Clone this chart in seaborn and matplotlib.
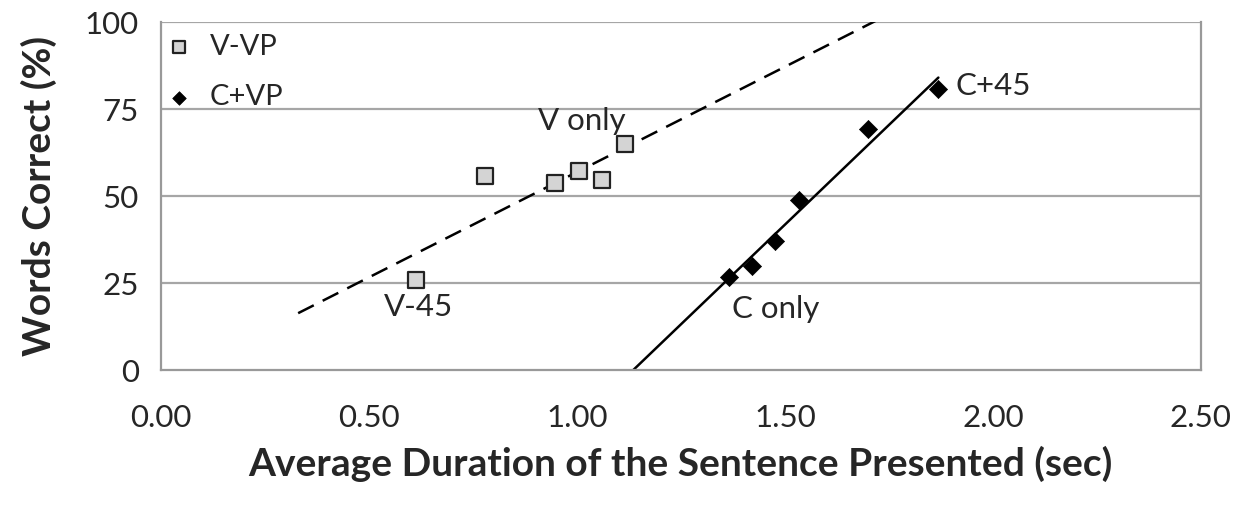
import numpy as np
import pandas as pd
import matplotlib
matplotlib.use("Agg")
import matplotlib.pyplot as plt
import seaborn as sns

# V-VP condition (visual only, varying playback)
v_dur = [0.613, 0.779, 0.947, 1.004, 1.060, 1.115]
v_correct = [25.9, 55.7, 53.9, 57.2, 54.6, 64.9]
# C+VP condition
c_dur = [1.366, 1.421, 1.477, 1.533, 1.701, 1.869]
c_correct = [26.8, 30.0, 37.0, 48.9, 69.3, 80.7]

# trend line extents (Excel style forecast)
v_trend_range = [0.33, 1.80]
c_trend_range = [1.00, 1.869]

x_ticks = [0.0, 0.5, 1.0, 1.5, 2.0, 2.5]
y_ticks = [0, 25, 50, 75, 100]

sns.set_style("white")
plt.rcParams["font.family"] = ["Lato", "DejaVu Sans"]

fig = plt.figure(figsize=(12.47, 5.12), dpi=100)
ax = fig.add_axes([0.129, 0.277, 0.834, 0.680])

grid_col = "#a6a6a6"
for yv in y_ticks[1:]:
    ax.axhline(yv, color=grid_col, lw=1.6, zorder=0)

# trend lines fitted to the data
for dur, corr, rng, ls in [(v_dur, v_correct, v_trend_range, (0, (7, 4))),
                           (c_dur, c_correct, c_trend_range, "-")]:
    slope, icpt = np.polyfit(dur, corr, 1)
    xs = np.array(rng)
    ax.plot(xs, slope * xs + icpt, color="black", lw=1.8, linestyle=ls, zorder=2)

df = pd.concat([
    pd.DataFrame({"dur": v_dur, "correct": v_correct, "cond": "V-VP"}),
    pd.DataFrame({"dur": c_dur, "correct": c_correct, "cond": "C+VP"}),
])
sns.scatterplot(data=df[df.cond == "V-VP"], x="dur", y="correct", marker="s",
                s=120, color="#d4d4d4", edgecolor="#222222", linewidth=1.6,
                label="V-VP", ax=ax, zorder=3)
sns.scatterplot(data=df[df.cond == "C+VP"], x="dur", y="correct", marker="D",
                s=85, color="black", edgecolor="black", linewidth=0.5,
                label="C+VP", ax=ax, zorder=3)

# point annotations
fs_note = 22.5
ax.text(1.012, 71.6, "V only", fontsize=fs_note, ha="center", va="center")
ax.text(0.620, 18.1, "V-45", fontsize=fs_note, ha="center", va="center")
ax.text(1.909, 81.6, "C+45", fontsize=fs_note, ha="left", va="center")
ax.text(1.478, 17.5, "C only", fontsize=fs_note, ha="center", va="center")

ax.set_xlim(0, 2.5)
ax.set_ylim(0, 100)
ax.set_xticks(x_ticks)
ax.set_xticklabels([f"{t:.2f}" for t in x_ticks])
ax.set_yticks(y_ticks)
ax.tick_params(axis="both", labelsize=22.5, length=8, width=1.2, color="#999999",
               direction="out")
ax.tick_params(axis="x", pad=16)
ax.tick_params(axis="y", pad=8)

for side in ["left", "bottom", "right"]:
    ax.spines[side].set_color("#999999")
    ax.spines[side].set_linewidth(1.6)
ax.spines["top"].set_visible(False)

ax.set_xlabel("Average Duration of the Sentence Presented (sec)",
              fontsize=28, fontweight="bold", labelpad=10)
ax.set_ylabel("Words Correct (%)", fontsize=28, fontweight="bold", labelpad=20)

ax.legend(loc="upper left", frameon=False, fontsize=21, handletextpad=0.05,
          borderaxespad=0.0, labelspacing=0.85, markerscale=0.75,
          bbox_to_anchor=(-0.022, 1.0))

fig.savefig("out.png", dpi=100)
plt.close(fig)
